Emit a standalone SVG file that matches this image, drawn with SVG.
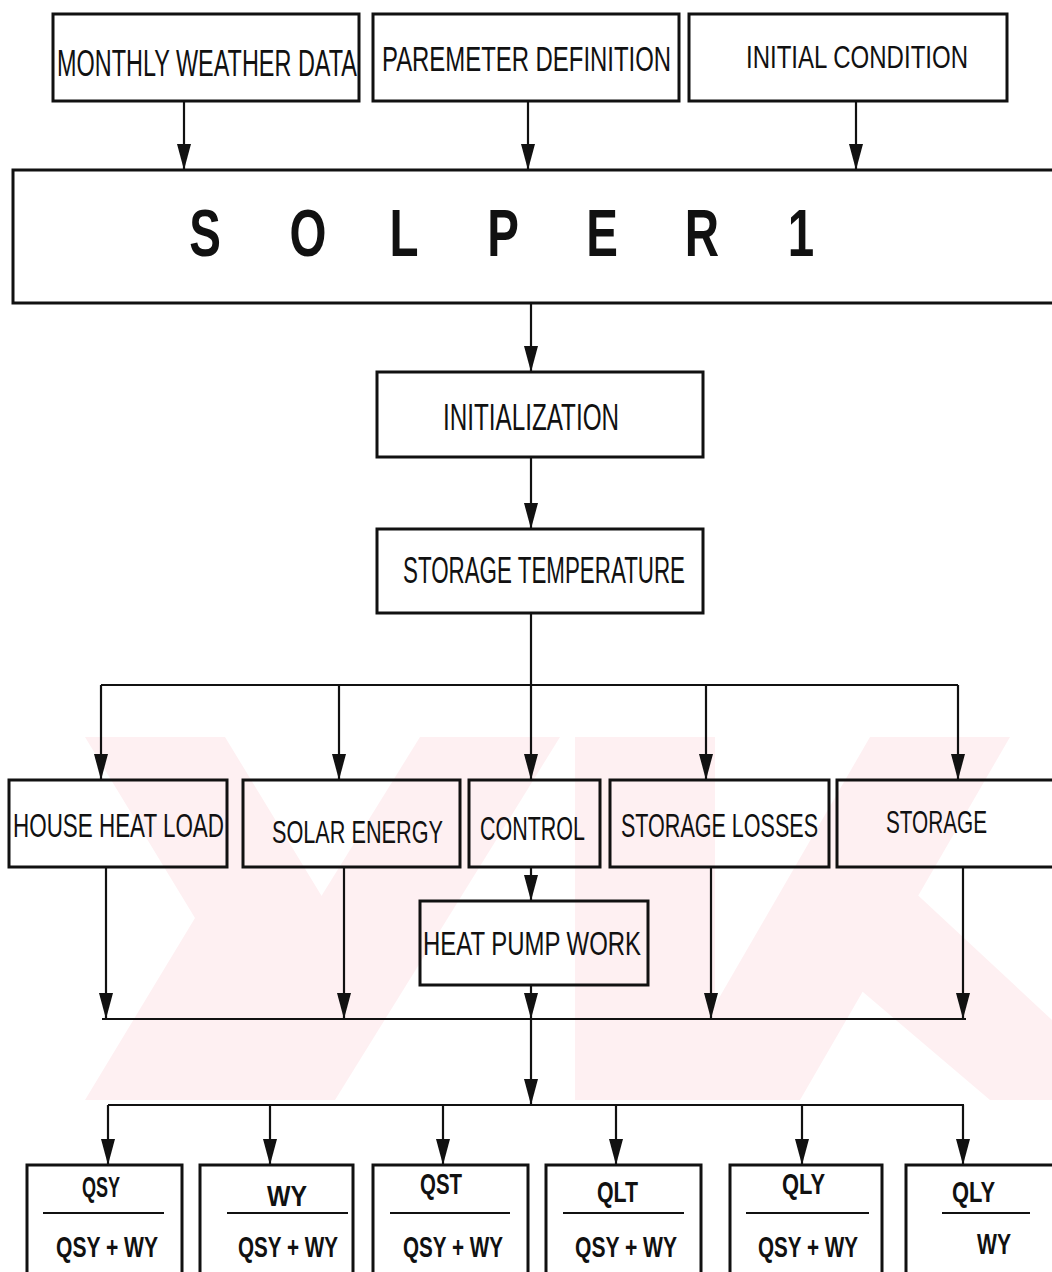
<svg xmlns="http://www.w3.org/2000/svg" width="1052" height="1272" viewBox="0 0 1052 1272">
<style>
  .box { fill: none; stroke: #111; stroke-width: 3; }
  .ln { fill: none; stroke: #111; stroke-width: 2.2; }
  .arr { fill: none; stroke: #111; stroke-width: 2.2; marker-end: url(#ah); }
  .t { font-family: "Liberation Sans", Arial, sans-serif; fill: #111; }
  .f { font-family: "Liberation Sans", Arial, sans-serif; fill: #111; font-weight: bold; font-size: 30px; }
  .wm { fill: #fef0f2; }
</style>
<defs>
  <marker id="ah" markerUnits="userSpaceOnUse" markerWidth="26" markerHeight="16" viewBox="0 0 26 16" refX="26" refY="8" orient="auto">
    <path d="M0,1 L26,8 L0,15 z" fill="#111"/>
  </marker>
</defs>
<rect width="1052" height="1272" fill="#fff"/>
<g id="watermark">
  <polygon class="wm" points="85,737 225,737 335,918 225,1100 85,1100 195,918"/>
  <polygon class="wm" points="420,737 560,737 335,1100 195,1100"/>
  <polygon class="wm" points="575,737 715,737 715,1100 575,1100"/>
  <polygon class="wm" points="870,737 1010,737 800,1100 660,1100"/>
  <polygon class="wm" points="790,930 880,860 1052,1020 1052,1100 990,1100"/>
</g>
<g id="connectors">
  <path class="arr" d="M184,101 V170"/>
  <path class="arr" d="M528,101 V170"/>
  <path class="arr" d="M856,101 V170"/>
  <path class="arr" d="M531,303 V372"/>
  <path class="arr" d="M531,457 V529"/>
  <path class="arr" d="M531,613 V780"/>
  <path class="ln" d="M101,685 H958"/>
  <path class="arr" d="M101,685 V780"/>
  <path class="arr" d="M339,685 V780"/>
  <path class="arr" d="M706,685 V780"/>
  <path class="arr" d="M958,685 V780"/>
  <path class="arr" d="M531,867 V901"/>
  <path class="arr" d="M106,867 V1019"/>
  <path class="arr" d="M344,867 V1019"/>
  <path class="arr" d="M531,985 V1019"/>
  <path class="arr" d="M711,867 V1019"/>
  <path class="arr" d="M963,867 V1019"/>
  <path class="ln" d="M102,1019 H966"/>
  <path class="arr" d="M531,1019 V1105"/>
  <path class="ln" d="M108,1105 H964"/>
  <path class="arr" d="M108,1105 V1165"/>
  <path class="arr" d="M270,1105 V1165"/>
  <path class="arr" d="M443,1105 V1165"/>
  <path class="arr" d="M616,1105 V1165"/>
  <path class="arr" d="M802,1105 V1165"/>
  <path class="arr" d="M963,1105 V1165"/>
</g>
<g id="monthly-weather-data">
  <rect class="box" x="53" y="14" width="306" height="87"/>
  <text class="t" transform="translate(57 76) scale(0.66 1)" font-size="36" textLength="454.5" lengthAdjust="spacingAndGlyphs">MONTHLY WEATHER DATA</text>
</g>
<g id="parameter-definition">
  <rect class="box" x="373" y="14" width="306" height="87"/>
  <text class="t" transform="translate(382 71) scale(0.66 1)" font-size="35" textLength="437.9" lengthAdjust="spacingAndGlyphs">PAREMETER DEFINITION</text>
</g>
<g id="initial-condition">
  <rect class="box" x="689" y="14" width="318" height="87"/>
  <text class="t" transform="translate(746 68) scale(0.66 1)" font-size="32" textLength="336.4" lengthAdjust="spacingAndGlyphs">INITIAL CONDITION</text>
</g>
<g id="solper1">
  <rect class="box" x="13" y="170" width="1050" height="133"/>
  <text class="t" transform="scale(0.72 1)" y="256" font-size="66" font-weight="bold" text-anchor="middle" x="284.7 356.3 427.8 494.4 561.1 629.9 698.6 767.4 836.1 905.6 975 1043.8 1112.5">S O L P E R 1</text>
</g>
<g id="initialization">
  <rect class="box" x="377" y="372" width="326" height="85"/>
  <text class="t" transform="translate(443 430) scale(0.66 1)" font-size="37" textLength="266.7" lengthAdjust="spacingAndGlyphs">INITIALIZATION</text>
</g>
<g id="storage-temperature">
  <rect class="box" x="377" y="529" width="326" height="84"/>
  <text class="t" transform="translate(403 583) scale(0.66 1)" font-size="36" textLength="427.3" lengthAdjust="spacingAndGlyphs">STORAGE TEMPERATURE</text>
</g>
<g id="house-heat-load">
  <rect class="box" x="9" y="780" width="218" height="87"/>
  <text class="t" transform="translate(13 837) scale(0.66 1)" font-size="33" textLength="319.7" lengthAdjust="spacingAndGlyphs">HOUSE HEAT LOAD</text>
</g>
<g id="solar-energy">
  <rect class="box" x="243" y="780" width="217" height="87"/>
  <text class="t" transform="translate(272 843) scale(0.66 1)" font-size="32" textLength="259.1" lengthAdjust="spacingAndGlyphs">SOLAR ENERGY</text>
</g>
<g id="control">
  <rect class="box" x="469" y="780" width="131" height="87"/>
  <text class="t" transform="translate(480 840) scale(0.66 1)" font-size="33" textLength="159.1" lengthAdjust="spacingAndGlyphs">CONTROL</text>
</g>
<g id="storage-losses">
  <rect class="box" x="610" y="780" width="219" height="87"/>
  <text class="t" transform="translate(621 837) scale(0.66 1)" font-size="33" textLength="298.5" lengthAdjust="spacingAndGlyphs">STORAGE LOSSES</text>
</g>
<g id="storage">
  <rect class="box" x="837" y="780" width="226" height="87"/>
  <text class="t" transform="translate(886 833) scale(0.66 1)" font-size="31" textLength="153" lengthAdjust="spacingAndGlyphs">STORAGE</text>
</g>
<g id="heat-pump-work">
  <rect class="box" x="420" y="901" width="228" height="84"/>
  <text class="t" transform="translate(423 955) scale(0.66 1)" font-size="33" textLength="330.3" lengthAdjust="spacingAndGlyphs">HEAT PUMP WORK</text>
</g>
<g id="ratio-qsy">
  <rect class="box" x="27" y="1165" width="155" height="120"/>
  <text class="f" transform="translate(82 1197) scale(0.75 1)" textLength="50.7" lengthAdjust="spacingAndGlyphs">QSY</text>
  <path class="ln" d="M43,1213 H164" stroke-width="2.6"/>
  <text class="f" transform="translate(56 1257) scale(0.75 1)" textLength="136" lengthAdjust="spacingAndGlyphs">QSY + WY</text>
</g>
<g id="ratio-wy">
  <rect class="box" x="200" y="1165" width="153" height="120"/>
  <text class="f" transform="translate(267 1206) scale(0.75 1)" textLength="53.3" lengthAdjust="spacingAndGlyphs">WY</text>
  <path class="ln" d="M227,1213 H348" stroke-width="2.6"/>
  <text class="f" transform="translate(238 1257) scale(0.75 1)" textLength="133.3" lengthAdjust="spacingAndGlyphs">QSY + WY</text>
</g>
<g id="ratio-qst">
  <rect class="box" x="373" y="1165" width="155" height="120"/>
  <text class="f" transform="translate(420 1194) scale(0.75 1)" textLength="56" lengthAdjust="spacingAndGlyphs">QST</text>
  <path class="ln" d="M390,1213 H510" stroke-width="2.6"/>
  <text class="f" transform="translate(403 1257) scale(0.75 1)" textLength="133.3" lengthAdjust="spacingAndGlyphs">QSY + WY</text>
</g>
<g id="ratio-qlt">
  <rect class="box" x="546" y="1165" width="155" height="120"/>
  <text class="f" transform="translate(597 1202) scale(0.75 1)" textLength="54.7" lengthAdjust="spacingAndGlyphs">QLT</text>
  <path class="ln" d="M563,1213 H684" stroke-width="2.6"/>
  <text class="f" transform="translate(575 1257) scale(0.75 1)" textLength="136" lengthAdjust="spacingAndGlyphs">QSY + WY</text>
</g>
<g id="ratio-qly">
  <rect class="box" x="730" y="1165" width="152" height="120"/>
  <text class="f" transform="translate(782 1194) scale(0.75 1)" textLength="57.3" lengthAdjust="spacingAndGlyphs">QLY</text>
  <path class="ln" d="M746,1213 H869" stroke-width="2.6"/>
  <text class="f" transform="translate(758 1257) scale(0.75 1)" textLength="133.3" lengthAdjust="spacingAndGlyphs">QSY + WY</text>
</g>
<g id="ratio-qly-wy">
  <rect class="box" x="906" y="1165" width="160" height="120"/>
  <text class="f" transform="translate(952 1202) scale(0.75 1)" textLength="57.3" lengthAdjust="spacingAndGlyphs">QLY</text>
  <path class="ln" d="M942,1213 H1030" stroke-width="2.6"/>
  <text class="f" transform="translate(977 1254) scale(0.75 1)" textLength="45.3" lengthAdjust="spacingAndGlyphs">WY</text>
</g>
</svg>
